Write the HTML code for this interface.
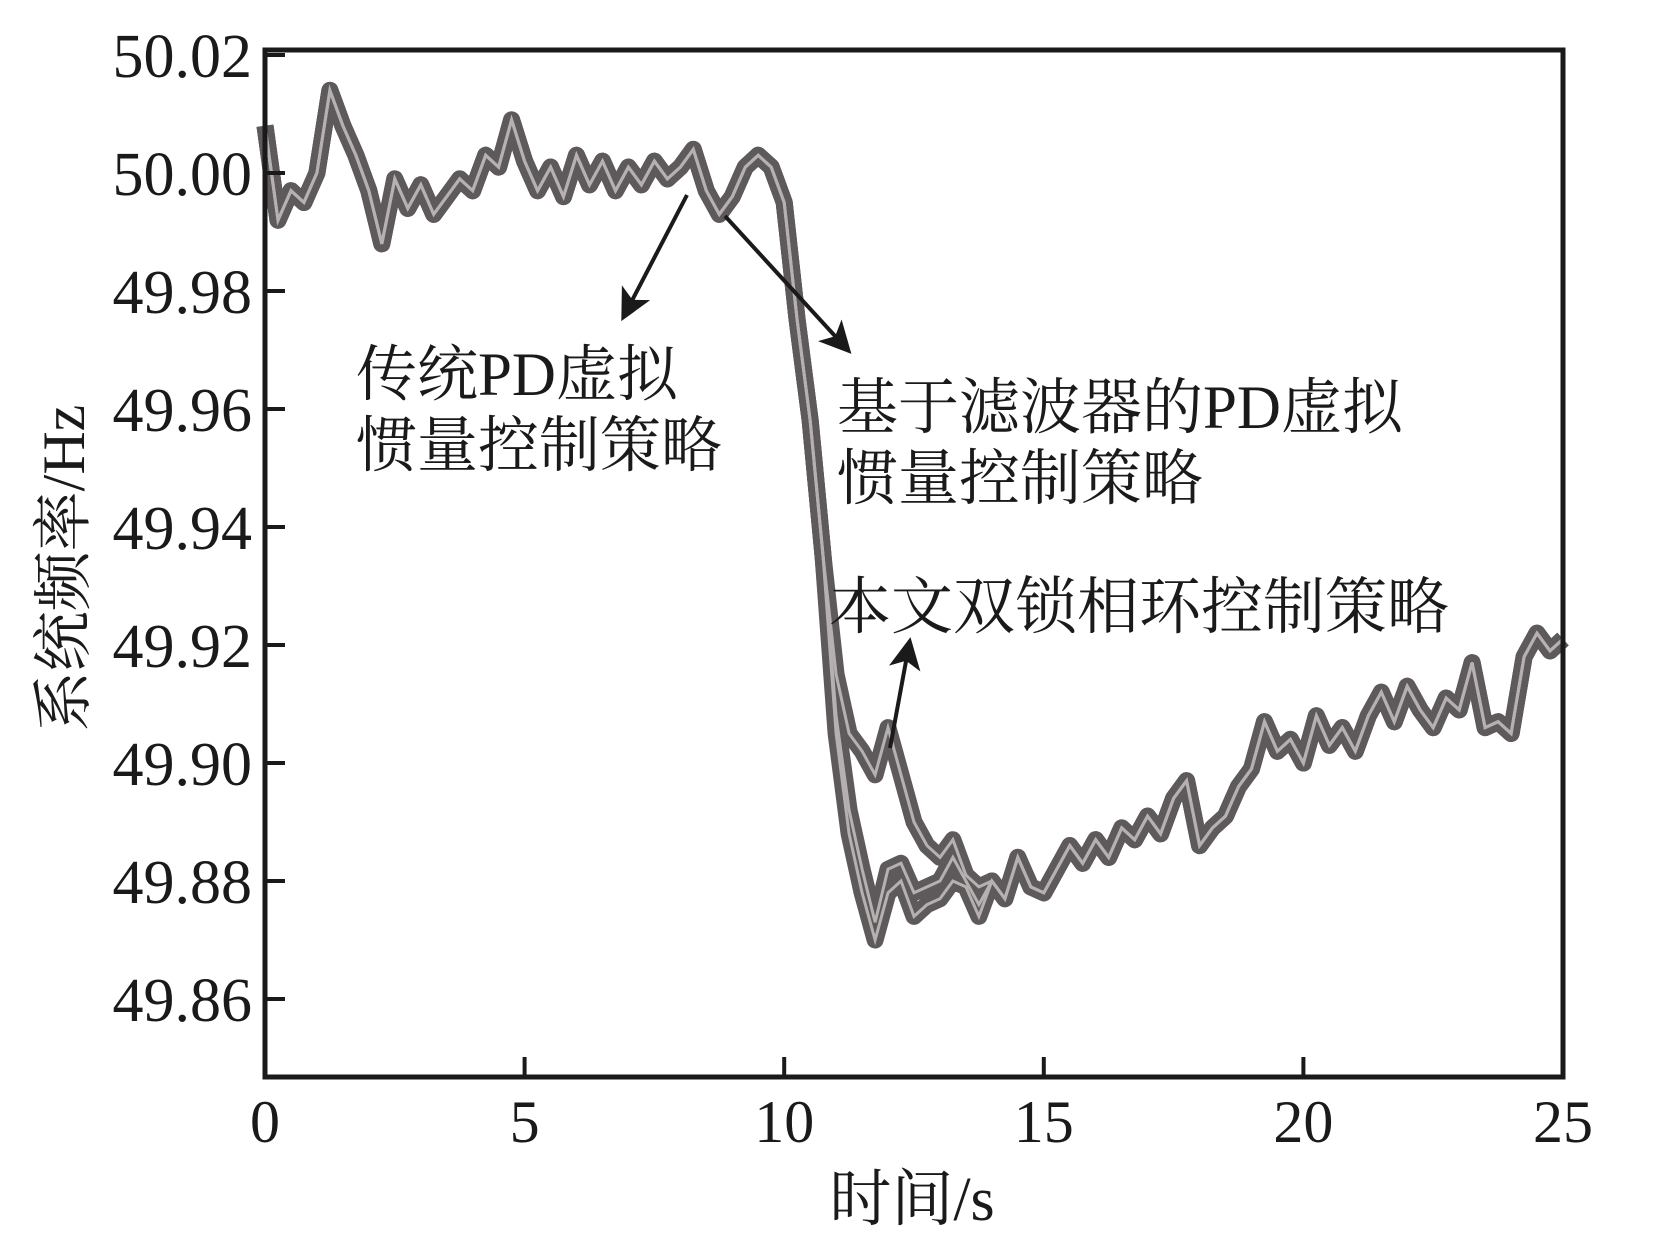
<!DOCTYPE html>
<html><head><meta charset="utf-8"><style>
html,body{margin:0;padding:0;background:#fff;}
svg{display:block;}
text{font-family:"Liberation Serif","Noto Serif CJK SC",serif;fill:#1a1a1a;}
</style></head><body>
<svg id="chart" width="1654" height="1255" viewBox="0 0 1654 1255" xmlns="http://www.w3.org/2000/svg">
<g id="series"></g>
<rect x="265" y="50" width="1298" height="1027" fill="none" stroke="#1a1a1a" stroke-width="5"/>
<g id="axes"></g>
<text transform="translate(84,568) rotate(-90)" text-anchor="middle" font-size="60" fill="#333">系统频率/Hz</text>
<text x="912" y="1220" text-anchor="middle" font-size="62">时间/s</text>
<g>
<text x="356" y="395" font-size="61">传统PD虚拟</text>
<text x="356" y="466" font-size="61">惯量控制策略</text>
</g>
<g>
<text x="837" y="428" font-size="61">基于滤波器的PD虚拟</text>
<text x="837" y="499" font-size="61">惯量控制策略</text>
</g>
<text x="829" y="628" font-size="62">本文双锁相环控制策略</text>
<defs><marker id="ah" markerWidth="8" markerHeight="8" refX="6" refY="4" orient="auto" markerUnits="strokeWidth"><path d="M0,0 L8,4 L0,8 L2,4 Z" fill="#1a1a1a"/></marker></defs>
<line x1="687" y1="195" x2="625" y2="314" stroke="#1a1a1a" stroke-width="4" marker-end="url(#ah)"/>
<line x1="725" y1="216" x2="846" y2="348" stroke="#1a1a1a" stroke-width="4" marker-end="url(#ah)"/>
<line x1="890" y1="748" x2="909" y2="645" stroke="#1a1a1a" stroke-width="4" marker-end="url(#ah)"/>
</svg>
<script>
const times=[];for(let i=0;i<=100;i++)times.push(i*0.25);
const shared=[50.008,49.992,49.997,49.995,50.000,50.014,50.008,50.003,49.997,49.988,49.999,49.994,49.998,49.993,49.996,49.999,49.997,50.003,50.001,50.009,50.002,49.997,50.001,49.996,50.003,49.998,50.002,49.997,50.001,49.998,50.002,49.999,50.001,50.004,49.997,49.993,49.996,50.001,50.003,50.001,49.995,49.975,49.958,49.935];
const tail=[49.880,49.877,49.884,49.879,49.878,49.882,49.886,49.883,49.887,49.884,49.889,49.887,49.891,49.888,49.894,49.897,49.886,49.889,49.891,49.896,49.899,49.907,49.902,49.904,49.900,49.908,49.903,49.906,49.902,49.908,49.912,49.907,49.913,49.909,49.906,49.911,49.909,49.917,49.906,49.907,49.905,49.918,49.922,49.919,49.921];
const midTrad=[49.905,49.888,49.878,49.870,49.878,49.880,49.874,49.876,49.877,49.880,49.879,49.874];
const midFilter=[49.908,49.892,49.882,49.873,49.882,49.883,49.878,49.879,49.880,49.884,49.880,49.876];
const midProposed=[49.915,49.905,49.902,49.898,49.906,49.898,49.890,49.886,49.884,49.887,49.881,49.879];
const seriesTrad=shared.concat(midTrad,tail);
const seriesFilter=shared.concat(midFilter,tail);
const seriesProposed=shared.concat(midProposed,tail);
const yTicks=[50.02,50.00,49.98,49.96,49.94,49.92,49.90,49.88,49.86];
const yTickLabels=["50.02","50.00","49.98","49.96","49.94","49.92","49.90","49.88","49.86"];
const xTicks=[0,5,10,15,20,25];
const xTickLabels=["0","5","10","15","20","25"];
const X0=265,X1=1563,Y0=55,PPU=5900;
const xs=t=>X0+(X1-X0)*t/25;
const ys=v=>Y0+(50.02-v)*PPU;
const NS="http://www.w3.org/2000/svg";
const sg=document.getElementById('series'),ag=document.getElementById('axes');
function pathD(arr){return arr.map((v,i)=>(i?'L':'M')+xs(times[i]).toFixed(1)+','+ys(v).toFixed(1)).join(' ');}
[['series-traditional-pd',seriesTrad],['series-filter-pd',seriesFilter],['series-dual-pll',seriesProposed]].forEach(([n,arr])=>{
 const p=document.createElementNS(NS,'path');
 
 
 p.setAttribute('d',pathD(arr));p.setAttribute('fill','none');p.setAttribute('stroke','#5e595a');p.setAttribute('stroke-width','17');p.setAttribute('stroke-linejoin','round');
 sg.appendChild(p);
});
[['series-traditional-pd-center',seriesTrad],['series-filter-pd-center',seriesFilter],['series-dual-pll-center',seriesProposed]].forEach(([n,arr])=>{
 const p=document.createElementNS(NS,'path');
 
 
 p.setAttribute('d',pathD(arr));p.setAttribute('fill','none');p.setAttribute('stroke','#b5b1b1');p.setAttribute('stroke-width','3');
 sg.appendChild(p);
});
yTicks.forEach((v,i)=>{
 const l=document.createElementNS(NS,'line');
 
 
 l.setAttribute('x1',X0);l.setAttribute('x2',X0+20);l.setAttribute('y1',ys(v));l.setAttribute('y2',ys(v));l.setAttribute('stroke','#1a1a1a');l.setAttribute('stroke-width','4');
 ag.appendChild(l);
 const t=document.createElementNS(NS,'text');
 
 
 t.setAttribute('x',252);t.setAttribute('y',ys(v)+22);t.setAttribute('text-anchor','end');t.setAttribute('font-size','62');
 t.textContent=yTickLabels[i];ag.appendChild(t);
});
xTicks.forEach((v,i)=>{
 const l=document.createElementNS(NS,'line');
 
 
 l.setAttribute('x1',xs(v));l.setAttribute('x2',xs(v));l.setAttribute('y1',1077);l.setAttribute('y2',1057);l.setAttribute('stroke','#1a1a1a');l.setAttribute('stroke-width','4');
 ag.appendChild(l);
 const t=document.createElementNS(NS,'text');
 
 
 t.setAttribute('x',xs(v));t.setAttribute('y',1142);t.setAttribute('text-anchor','middle');t.setAttribute('font-size','60');
 t.textContent=xTickLabels[i];ag.appendChild(t);
});
</script>
</body></html>
